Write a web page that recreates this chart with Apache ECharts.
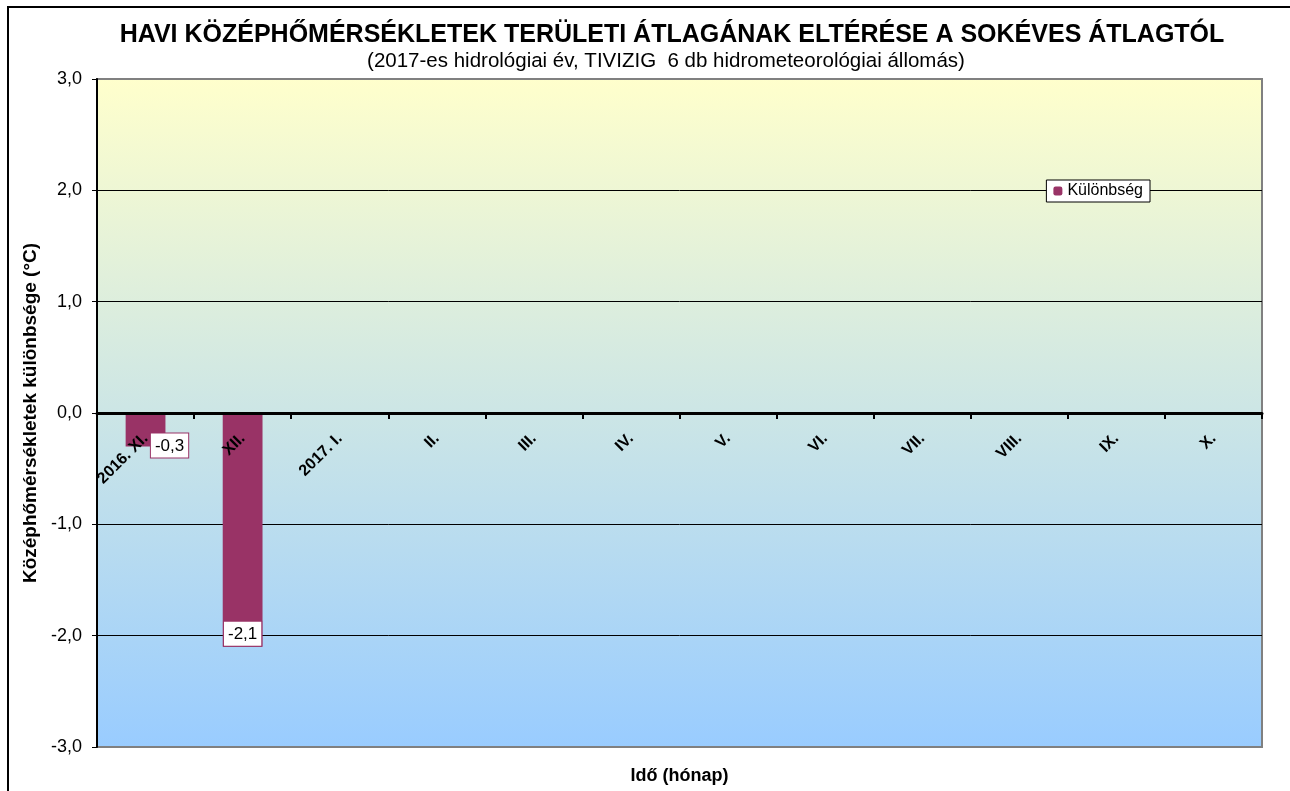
<!DOCTYPE html>
<html>
<head>
<meta charset="utf-8">
<script src="https://cdn.jsdelivr.net/npm/echarts@6/dist/echarts.min.js"></script>
<style>
  html, body { margin: 0; padding: 0; background: #fff; }
  #container { width: 1290px; height: 791px; }
</style>
</head>
<body>
<div id="container"></div>
<script>
// havi adatok
const months = ['2016. XI.', 'XII.', '2017. I.', 'II.', 'III.', 'IV.', 'V.', 'VI.', 'VII.', 'VIII.', 'IX.', 'X.'];
const diffValues = [-0.3, -2.1, null, null, null, null, null, null, null, null, null, null];
const yTicks = [-3, -2, -1, 0, 1, 2, 3];

const barColor = '#993366';
const fontFam = 'Liberation Sans, Arial, sans-serif';

// cimke elhelyezes az eredeti szerint
const labelOffsets = [[24, 12], [0, 0]];

const chart = echarts.init(document.querySelector('#container'));
chart.setOption({
  animation: false,
  textStyle: { fontFamily: fontFam },
  title: [{
    text: 'HAVI KÖZÉPHŐMÉRSÉKLETEK TERÜLETI ÁTLAGÁNAK ELTÉRÉSE A SOKÉVES ÁTLAGTÓL',
    left: 667, top: 18, textAlign: 'center',
    textStyle: { fontSize: 25, fontWeight: 'bold', color: '#000', fontFamily: fontFam }
  }, {
    text: '(2017-es hidrológiai év, TIVIZIG  6 db hidrometeorológiai állomás)',
    left: 661, top: 46, textAlign: 'center',
    textStyle: { fontSize: 20.5, fontWeight: 'normal', color: '#000', fontFamily: fontFam }
  }],
  legend: {
    right: 140, top: 180,
    padding: [3, 7, 3, 7],
    backgroundColor: '#fff',
    borderColor: '#000', borderWidth: 1, borderRadius: 0,
    itemWidth: 9, itemHeight: 9, itemGap: 4,
    textStyle: { fontSize: 16, color: '#000', fontFamily: fontFam },
    data: ['Különbség']
  },
  graphic: [{
    type: 'rect',
    shape: { x: 8, y: 7, width: 1400, height: 900 },
    style: { fill: 'none', stroke: '#000', lineWidth: 2 },
    silent: true, z: 100
  }],
  grid: {
    left: 97, right: 28, top: 79, bottom: 44,
    outerBoundsMode: 'none',
    containLabel: false,
    show: true,
    borderColor: '#808080', borderWidth: 2,
    backgroundColor: {
      type: 'linear', x: 0, y: 0, x2: 0, y2: 1,
      colorStops: [{ offset: 0, color: '#FFFFCC' }, { offset: 1, color: '#99CCFF' }]
    }
  },
  xAxis: {
    type: 'category',
    data: months,
    z: 5,
    name: 'Idő (hónap)',
    nameLocation: 'middle',
    nameGap: 20,
    nameMoveOverlap: false,
    nameTextStyle: { fontSize: 18, fontWeight: 'bold', color: '#000' },
    axisLine: { onZero: true, lineStyle: { color: '#000', width: 3 } },
    axisTick: { show: true, length: 6, lineStyle: { color: '#000', width: 2 } },
    axisLabel: {
      // a feliratok a 0-s vonalhoz igazitva
      interval: 0, rotate: 45, margin: -311,
      fontSize: 16, fontWeight: 'bold', color: '#000'
    }
  },
  yAxis: {
    type: 'value',
    min: -3, max: 3, interval: 1,
    name: 'Középhőmérsékletek különbsége (°C)',
    nameLocation: 'middle',
    nameGap: 50,
    nameTextStyle: { fontSize: 19, fontWeight: 'bold', color: '#000' },
    axisLine: { show: true, lineStyle: { color: '#000', width: 2 } },
    axisTick: { show: true, length: 5, lineStyle: { color: '#000' } },
    axisLabel: {
      fontSize: 18, color: '#000', margin: 15,
      formatter: v => v.toFixed(1).replace('.', ',')
    },
    splitLine: { show: true, showMinLine: false, showMaxLine: false, lineStyle: { color: '#000', width: 1 } }
  },
  series: [{
    name: 'Különbség',
    type: 'bar',
    barWidth: '41%',
    itemStyle: { color: barColor },
    data: diffValues.map((v, i) => v === null ? null : {
      value: v,
      label: {
        show: true,
        position: 'insideBottom',
        distance: 1,
        offset: labelOffsets[i] || [0, 0],
        formatter: p => p.value.toFixed(1).replace('.', ','),
        backgroundColor: '#fff',
        borderColor: barColor, borderWidth: 1,
        padding: [4, 4, 3, 4],
        fontSize: 17, color: '#000'
      }
    })
  }]
});
</script>
</body>
</html>
